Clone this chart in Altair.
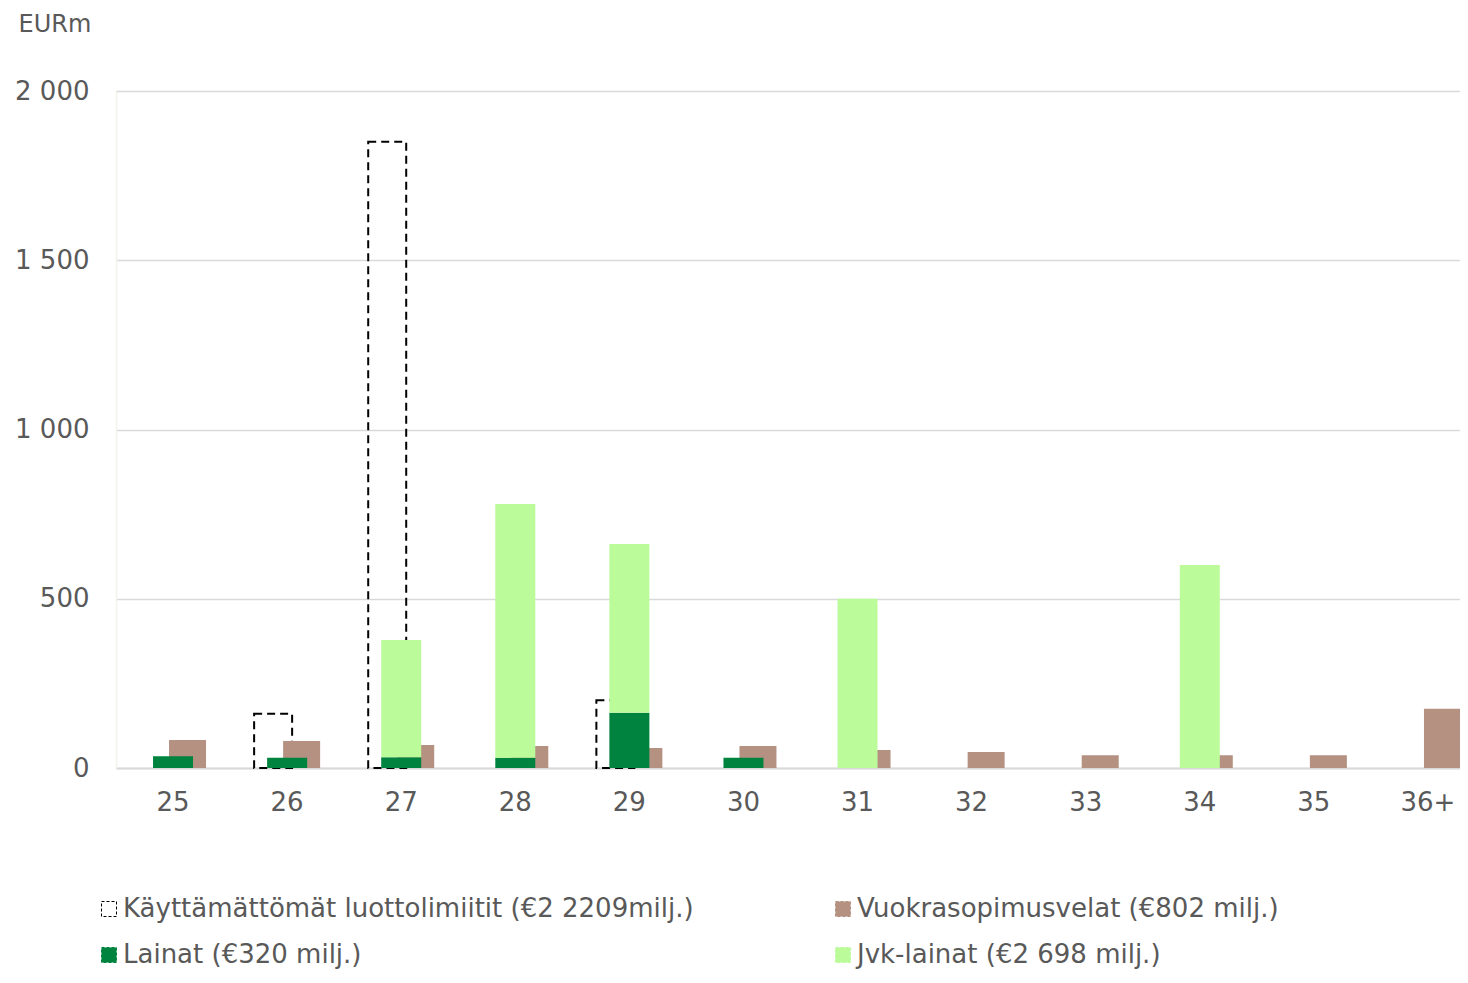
import altair as alt
import pandas as pd

categories = ["25", "26", "27", "28", "29", "30", "31", "32", "33", "34", "35", "36+"]
kayttamattomat = [None, 160, 1850, None, 200, None, None, None, None, None, None, None]
vuokra = [83, 80, 68, 65, 59, 65, 53, 47, 38, 38, 38, 175]
lainat = [35, 30, 32, 30, 163, 30, None, None, None, None, None, None]
jvk = [None, None, 346, 750, 499, None, 500, None, None, 600, None, None]

S_K = "Käyttämättömät luottolimiitit (€2 2209milj.)"
S_V = "Vuokrasopimusvelat (€802 milj.)"
S_L = "Lainat (€320 milj.)"
S_J = "Jvk-lainat (€2 698 milj.)"
# legend is laid out column by column: K, L in the first column; V, J in the second
series_names = [S_K, S_L, S_V, S_J]
fills = ["transparent", "#00833e", "#b59182", "#bbfb9a"]
strokes = ["#000000", "#00833e", "#b59182", "#bbfb9a"]
y_ticks = [0, 500, 1000, 1500, 2000]

rows = []
for name, vals, order in [(S_K, kayttamattomat, 0), (S_V, vuokra, 1), (S_L, lainat, 1), (S_J, jvk, 2)]:
    for c, v in zip(categories, vals):
        if v is not None:
            rows.append(dict(cat=c, series=name, value=v, ord=order))
df = pd.DataFrame(rows)

FONT = "DejaVu Sans"
GRAY = "#595959"
W, H = 1344, 677

x_enc = alt.X(
    "cat:N",
    sort=categories,
    scale=alt.Scale(domain=categories, paddingInner=0, paddingOuter=0, range=[0, 1369]),
    axis=alt.Axis(title=None, labelAngle=0, labelFontSize=26, labelFont=FONT, labelColor=GRAY,
                  labelPadding=21, ticks=False, domainColor="#d9d9d9", domainWidth=2, grid=False),
)
y_axis = alt.Axis(values=y_ticks, labelExpr="replace(format(datum.value, ',d'), ',', ' ')",
                  labelFontSize=26, labelFont=FONT, labelColor=GRAY, labelPadding=27, ticks=False,
                  domainColor="#f3f3ea", domainWidth=1.5, gridColor="#d9d9d9", gridWidth=1.5,
                  title="EURm", titleAngle=0, titleX=-98, titleY=-60, titleAlign="left",
                  titleBaseline="alphabetic", titleFontSize=24, titleFont=FONT, titleColor=GRAY,
                  titleFontWeight="normal")
y_scale = alt.Scale(domain=[0, 2000], nice=False)

legend = alt.Legend(title=None, orient="none", legendX=-20, legendY=805, columns=2, columnPadding=136,
                    rowPadding=20, labelFontSize=26, labelFont=FONT, labelColor=GRAY, symbolType="square",
                    symbolSize=225, symbolStrokeWidth=1, symbolDash=[3, 2], labelOffset=1,
                    labelLimit=800, padding=0)
fill_enc = alt.Fill("series:N", scale=alt.Scale(domain=series_names, range=fills), legend=legend)
stroke_enc = alt.Stroke("series:N", scale=alt.Scale(domain=series_names, range=strokes), legend=legend)

base = alt.Chart(df)

dashed = base.transform_filter(alt.datum.series == S_K).mark_bar(
    width=38, xOffset=-14, strokeDash=[8, 5], strokeWidth=2
).encode(x=x_enc, y=alt.Y("value:Q", scale=y_scale, axis=y_axis, stack=None), fill=fill_enc, stroke=stroke_enc)

brown = base.transform_filter(alt.datum.series == S_V).mark_bar(
    width=37, xOffset=14.5, strokeWidth=0
).encode(x=x_enc, y=alt.Y("value:Q", scale=y_scale, axis=y_axis, stack=None), fill=fill_enc, stroke=stroke_enc)

green = base.transform_filter(
    (alt.datum.series == S_L) | (alt.datum.series == S_J)
).mark_bar(width=40, strokeWidth=0).encode(
    x=x_enc,
    y=alt.Y("value:Q", scale=y_scale, axis=y_axis, stack="zero"),
    fill=fill_enc,
    stroke=stroke_enc,
    order=alt.Order("ord:Q", sort="ascending"),
)

chart = alt.layer(dashed, brown, green).properties(
    width=W, height=H,
    autosize=alt.AutoSizeParams(type="none"),
    padding={"left": 108, "top": 83, "right": 0, "bottom": 202},
).configure_view(stroke=None).configure(background="white")

chart.save("out.html", embed_options={"renderer": "svg", "actions": False})
